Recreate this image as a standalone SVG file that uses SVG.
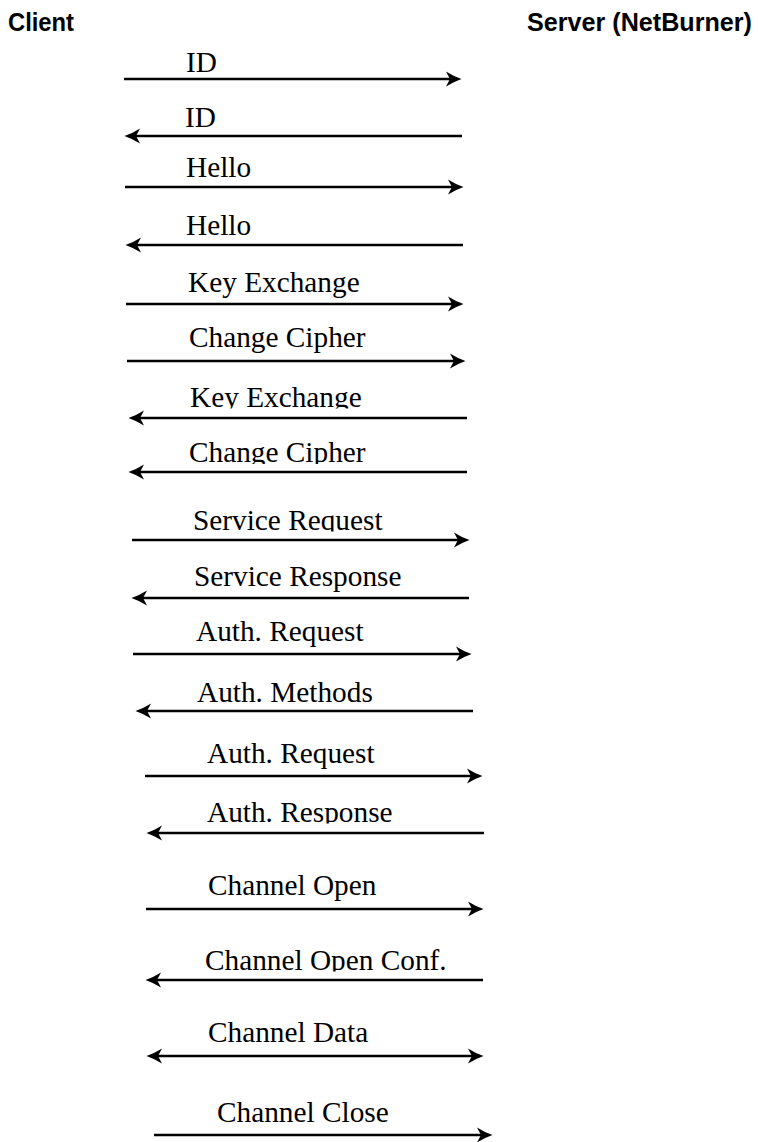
<svg xmlns="http://www.w3.org/2000/svg" width="758" height="1142" viewBox="0 0 758 1142">
<style>
.hdr{font-family:"Liberation Sans",Arial,sans-serif;font-weight:bold;font-size:26px;fill:#000}
.lbl{font-family:"Liberation Serif","Times New Roman",serif;font-size:29.3px;fill:#000}
.msg{stroke:#000;stroke-width:2.6;fill:none}
.fw{marker-end:url(#ah)}
.bw{marker-start:url(#ah);marker-end:url(#ah)}
</style>
<defs>
<marker id="ah" markerUnits="userSpaceOnUse" viewBox="0 -8 16 16" markerWidth="16" markerHeight="16" refX="4" refY="0" orient="auto-start-reverse">
<path d="M0,-7.5 Q7,-3 15.5,0 Q7,3 0,7.5 L4,0 Z" fill="#000"/>
</marker>
<clipPath id="c7"><rect x="150" y="370" width="320" height="38.5"/></clipPath>
<clipPath id="c8"><rect x="150" y="425" width="320" height="39"/></clipPath>
<clipPath id="c9"><rect x="150" y="495" width="320" height="36.5"/></clipPath>
<clipPath id="c14"><rect x="150" y="785" width="320" height="38.5"/></clipPath>
<clipPath id="c16"><rect x="150" y="935" width="340" height="36.5"/></clipPath>
</defs>
<rect width="758" height="1142" fill="#fff"/>
<g id="client"><text class="hdr" x="8" y="31" textLength="66" lengthAdjust="spacingAndGlyphs">Client</text></g>
<g id="server"><text class="hdr" x="527" y="31" textLength="225" lengthAdjust="spacingAndGlyphs">Server (NetBurner)</text></g>
<g id="labels">
<text class="lbl" x="186" y="72">ID</text>
<text class="lbl" x="185" y="127">ID</text>
<text class="lbl" x="186" y="177">Hello</text>
<text class="lbl" x="186" y="235">Hello</text>
<text class="lbl" x="188" y="292">Key Exchange</text>
<text class="lbl" x="189" y="347">Change Cipher</text>
<text class="lbl" x="190" y="407" clip-path="url(#c7)">Key Exchange</text>
<text class="lbl" x="189" y="462" clip-path="url(#c8)">Change Cipher</text>
<text class="lbl" x="193" y="530" clip-path="url(#c9)">Service Request</text>
<text class="lbl" x="194" y="586">Service Response</text>
<text class="lbl" x="196" y="641">Auth. Request</text>
<text class="lbl" x="197" y="702">Auth. Methods</text>
<text class="lbl" x="207" y="763">Auth. Request</text>
<text class="lbl" x="207" y="822" clip-path="url(#c14)">Auth. Response</text>
<text class="lbl" x="208" y="895">Channel Open</text>
<text class="lbl" x="205" y="970" clip-path="url(#c16)">Channel Open Conf.</text>
<text class="lbl" x="208" y="1042">Channel Data</text>
<text class="lbl" x="217" y="1122">Channel Close</text>
</g>
<g id="connectors">
<line class="msg fw" x1="124" y1="79" x2="450" y2="79"/>
<line class="msg fw" x1="462" y1="136" x2="136" y2="136"/>
<line class="msg fw" x1="125" y1="187" x2="452" y2="187"/>
<line class="msg fw" x1="463" y1="245" x2="137" y2="245"/>
<line class="msg fw" x1="126" y1="304" x2="452" y2="304"/>
<line class="msg fw" x1="127" y1="361" x2="454" y2="361"/>
<line class="msg fw" x1="467" y1="418" x2="140" y2="418"/>
<line class="msg fw" x1="467" y1="472" x2="140" y2="472"/>
<line class="msg fw" x1="132" y1="540" x2="458" y2="540"/>
<line class="msg fw" x1="469" y1="598" x2="143" y2="598"/>
<line class="msg fw" x1="133" y1="654" x2="460" y2="654"/>
<line class="msg fw" x1="473" y1="711" x2="147" y2="711"/>
<line class="msg fw" x1="145" y1="776" x2="471" y2="776"/>
<line class="msg fw" x1="484" y1="833" x2="158" y2="833"/>
<line class="msg fw" x1="146" y1="909" x2="472" y2="909"/>
<line class="msg fw" x1="483" y1="980" x2="157" y2="980"/>
<line class="msg bw" x1="158" y1="1056" x2="472" y2="1056"/>
<line class="msg fw" x1="154" y1="1135" x2="481" y2="1135"/>
</g>
</svg>
